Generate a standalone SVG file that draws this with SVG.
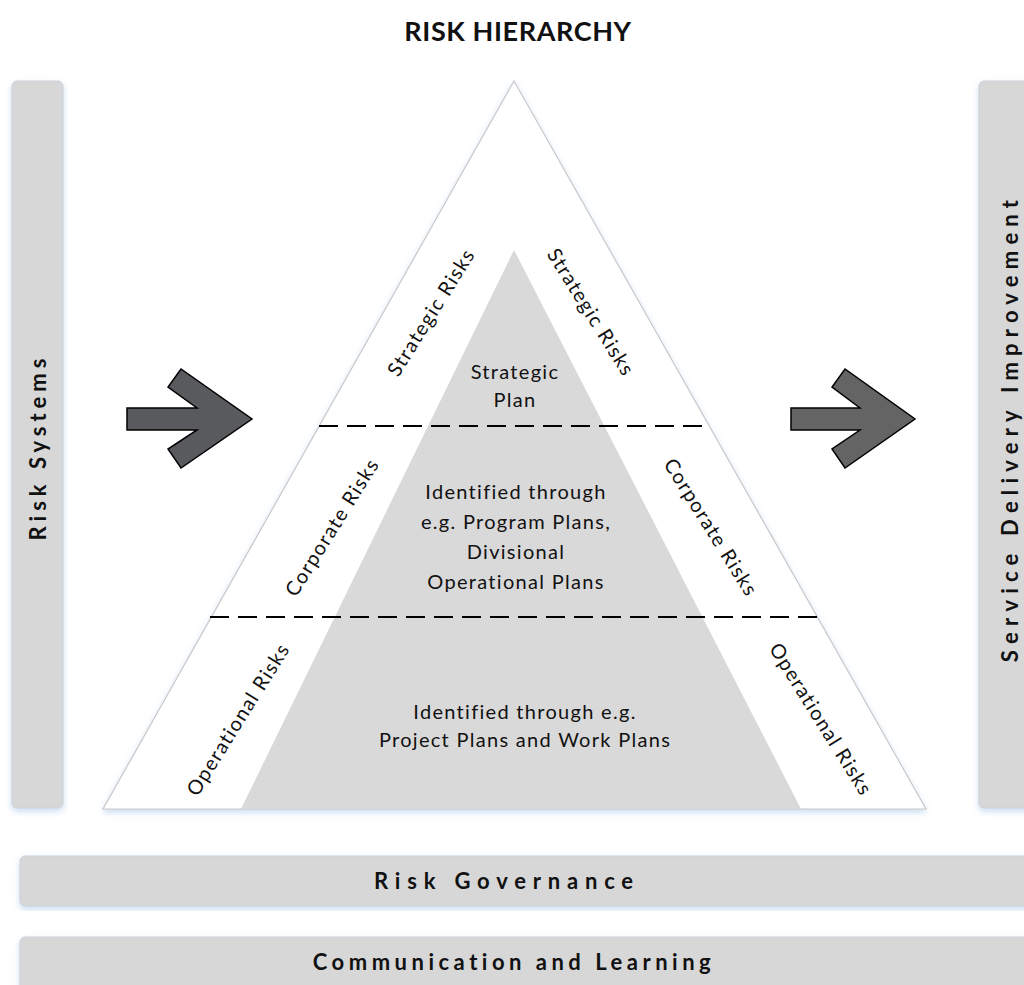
<svg xmlns="http://www.w3.org/2000/svg" width="1024" height="985" viewBox="0 0 1024 985">
  <style>
    .bar { fill: #d7d7d7; stroke: #cdd2d8; stroke-width: 1; }
    .barlabel { font-family: Lato, "Liberation Sans", sans-serif; font-weight: bold; font-size: 22px; fill: #111; text-anchor: middle; }
    .title { font-family: Lato, "Liberation Sans", sans-serif; font-weight: bold; font-size: 27px; letter-spacing: 0.6px; fill: #111; text-anchor: middle; }
    .lbl { font-family: Lato, "Liberation Sans", sans-serif; font-size: 20px; letter-spacing: 1.3px; fill: #111; text-anchor: middle; }
    .side { font-family: Lato, "Liberation Sans", sans-serif; font-size: 20px; letter-spacing: 1.3px; fill: #111; text-anchor: middle; }
    .arrow { stroke: #000; stroke-width: 1.5; stroke-linejoin: miter; }
    .dash { stroke: #000; stroke-width: 2.2; stroke-dasharray: 19 9; fill: none; }
  </style>
  <defs>
    <filter id="glow" x="-10%" y="-10%" width="120%" height="120%">
      <feDropShadow dx="0" dy="3" stdDeviation="3" flood-color="#9fc1e6" flood-opacity="0.55"/>
    </filter>
  </defs>

  <rect width="1024" height="985" fill="#ffffff"/>

  <text class="title" x="518" y="41">RISK HIERARCHY</text>

  <!-- side and bottom bars -->
  <g id="risk-systems">
    <rect class="bar" x="12" y="81" width="51" height="727" rx="5" filter="url(#glow)"/>
    <text class="barlabel" style="letter-spacing:5px" transform="translate(46,447) rotate(-90)">Risk Systems</text>
  </g>
  <g id="service-delivery">
    <rect class="bar" x="979" y="81" width="70" height="727" rx="5" filter="url(#glow)"/>
    <text class="barlabel" style="letter-spacing:6.2px" transform="translate(1018,428) rotate(-90)">Service Delivery Improvement</text>
  </g>
  <g id="risk-governance">
    <rect class="bar" x="20" y="856" width="1030" height="50" rx="5" filter="url(#glow)"/>
    <text class="barlabel" style="letter-spacing:6.8px" x="507" y="889">Risk Governance</text>
  </g>
  <g id="communication">
    <rect class="bar" x="20" y="937" width="1030" height="70" rx="5" filter="url(#glow)"/>
    <text class="barlabel" style="letter-spacing:4.5px" x="514" y="970">Communication and Learning</text>
  </g>

  <!-- pyramid -->
  <g id="pyramid">
    <polygon points="514,81 926,809 103,809" fill="#ffffff" stroke="#c9c9c9" stroke-width="1.2" filter="url(#glow)"/>
    <polygon points="514,250 801,809 241,809" fill="#d9d9d9"/>
  </g>

  <g id="strategic-tier">
    <text class="side" transform="translate(437,316) rotate(-58)">Strategic Risks</text>
    <text class="side" transform="translate(585,316) rotate(58)">Strategic Risks</text>
    <text class="lbl" x="515" y="379">Strategic</text>
    <text class="lbl" x="515" y="407">Plan</text>
  </g>

  <g id="corporate-tier">
    <text class="side" transform="translate(338,531) rotate(-58)">Corporate Risks</text>
    <text class="side" transform="translate(705,531) rotate(58)">Corporate Risks</text>
    <text class="lbl" x="516" y="499">Identified through</text>
    <text class="lbl" x="516" y="529">e.g. Program Plans,</text>
    <text class="lbl" x="516" y="559">Divisional</text>
    <text class="lbl" x="516" y="589">Operational Plans</text>
  </g>

  <g id="operational-tier">
    <text class="side" transform="translate(244,723) rotate(-58)">Operational Risks</text>
    <text class="side" transform="translate(815,723) rotate(58)">Operational Risks</text>
    <text class="lbl" x="525" y="719">Identified through e.g.</text>
    <text class="lbl" x="525" y="747">Project Plans and Work Plans</text>
  </g>

  <!-- tier dividers and flow arrows -->
  <g id="connectors">
    <line class="dash" x1="319" y1="426" x2="702" y2="426"/>
    <line class="dash" x1="210" y1="617" x2="820" y2="617"/>
    <path class="arrow" fill="#595a5e" d="M127,408 L197,408 L168,387 L181,369 L252,419 L181,468 L168,449 L197,430 L127,430 Z"/>
    <path class="arrow" fill="#646464" d="M791,408 L860,408 L832,387 L845,369 L915,419 L845,468 L832,449 L860,430 L791,430 Z"/>
  </g>
</svg>
